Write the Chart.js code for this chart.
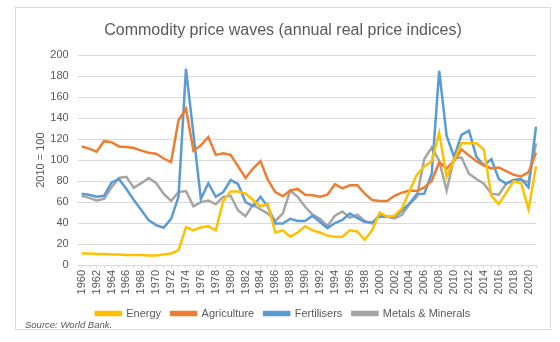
<!DOCTYPE html>
<html>
<head>
<meta charset="utf-8">
<script src="https://cdn.jsdelivr.net/npm/chart.js@4.4.1/dist/chart.umd.min.js"></script>
<style>
  html, body { margin: 0; padding: 0; background: #fff; }
  #wrap { position: relative; width: 560px; height: 342px; }
  #frame { position: absolute; left: 15px; top: 7px; width: 536px; height: 323px; border: 1px solid #d9d9d9; box-sizing: border-box; pointer-events: none; }
  #source { position: absolute; left: 25px; top: 319px; font: italic 9.5px "Liberation Sans", Arial, sans-serif; color: #595959; }
</style>
</head>
<body>
<div id="wrap">
  <canvas id="pricesChart" width="560" height="342"></canvas>
  <div id="frame"></div>
  <div id="source">Source: World Bank.</div>
</div>
<script>
const textColor = '#595959';
const gridColor = '#d9d9d9';

const years = [];
for (let y = 1960; y <= 2021; y++) years.push(String(y));

const energy = [11, 11, 10.5, 10.5, 10, 10, 9.5, 9.5, 9.5, 9, 9, 10, 11, 14, 36, 33, 36, 37, 33, 61,
  70, 70, 68, 62, 56, 58, 31, 33, 27, 31, 37, 33, 31, 28, 27, 27, 33, 32, 24, 33,
  50, 46, 47, 54, 70, 86, 94, 99, 126, 84, 100, 116, 116, 116, 110, 66, 58, 69, 80, 78,
  53, 94];
const agriculture = [113, 111, 108, 118, 117, 113, 112.5, 111.5, 109, 107, 106, 101.5, 98, 138, 149, 109, 114, 122, 105, 106.5,
  105, 94, 83, 92, 99, 81, 69.5, 65.5, 71, 72.5, 67, 66.5, 65, 67, 77, 73, 76, 76, 68, 62,
  61, 61, 66, 69, 71, 70.5, 74, 80, 98, 92, 99.5, 110, 104.5, 99, 95, 92, 93, 89.5, 86, 84.5,
  88.5, 107];
const fertilisers = [68, 67, 65, 66, 78.5, 82, 72.5, 62, 52.5, 42.5, 38, 35.5, 44, 65, 187, 125, 63, 78, 65, 69.5,
  81, 77, 60, 56, 65, 55.5, 39.5, 39.5, 44, 42, 42, 47, 41, 35, 40, 43, 49, 45, 41, 40.5,
  46, 46, 46.5, 52, 58.5, 67.5, 68, 87, 185, 123, 103, 124, 128, 103, 95, 101, 82, 77.5, 81, 82,
  74, 132];
const metals = [66, 64, 61.5, 63, 74, 83, 84, 73.5, 78, 83, 78, 68, 61, 69.5, 70.5, 56, 60, 61.5, 58, 65,
  66, 52, 46.5, 57.5, 53, 49, 42, 49, 71, 65, 55.5, 48, 44, 37, 47, 51, 45, 48, 42, 39.5,
  48, 46, 44.5, 48, 58, 65, 101, 112, 99.5, 71, 102, 102.5, 87, 82, 77.5, 68, 67, 77.5, 81, 81,
  79, 116];

const seriesNames = ['Energy', 'Agriculture', 'Fertilisers', 'Metals & Minerals'];
const seriesColors = ['#ffc000', '#ed7d31', '#5b9bd5', '#a5a5a5'];
const seriesData = [energy, agriculture, fertilisers, metals];

const font = "'Liberation Sans', Arial, sans-serif";

const ctx = document.getElementById('pricesChart').getContext('2d');

const pricesChart = new Chart(ctx, {
    type: 'line',
    data: {
        labels: years,
        datasets: seriesNames.map((name, i) => ({
            label: name,
            data: seriesData[i],
            borderColor: seriesColors[i],
            backgroundColor: seriesColors[i],
            borderWidth: 2.5,
            pointRadius: 0,
            tension: 0,
            fill: false
        }))
    },
    options: {
        responsive: false,
        animation: false,
        layout: {
            padding: { left: 30, right: 24, top: 11, bottom: 13 }
        },
        plugins: {
            title: {
                display: true,
                text: 'Commodity price waves (annual real price indices)',
                color: textColor,
                font: { family: font, size: 16, weight: 'normal' },
                padding: { top: 10, bottom: 15 }
            },
            legend: {
                position: 'bottom',
                labels: {
                    color: textColor,
                    boxWidth: 25,
                    boxHeight: 3,
                    padding: 10,
                    font: { family: font, size: 11 }
                }
            },
            tooltip: { enabled: false }
        },
        scales: {
            x: {
                grid: {
                    drawOnChartArea: false,
                    tickLength: 3,
                    color: gridColor
                },
                border: { color: gridColor },
                ticks: {
                    autoSkip: false,
                    minRotation: 90,
                    maxRotation: 90,
                    padding: 2,
                    color: textColor,
                    font: { family: font, size: 11 },
                    callback: function (value, index) {
                        return index % 2 === 0 ? this.getLabelForValue(value) : '';
                    }
                },
                afterFit: (scale) => { scale.height = 33; }
            },
            y: {
                min: 0,
                max: 200,
                grid: {
                    color: gridColor,
                    tickLength: 4
                },
                border: { display: false },
                ticks: {
                    stepSize: 20,
                    padding: 9,
                    color: textColor,
                    font: { family: font, size: 11 }
                },
                title: {
                    display: true,
                    text: '2010 = 100',
                    color: textColor,
                    font: { family: font, size: 11 }
                },
                afterFit: (scale) => { scale.width = 51.7; }
            }
        }
    }
});
</script>
</body>
</html>
